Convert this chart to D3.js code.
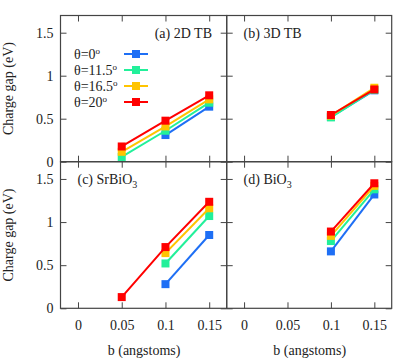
<!DOCTYPE html>
<html>
<head>
<meta charset="utf-8">
<script src="https://cdn.jsdelivr.net/npm/d3@7/dist/d3.min.js"></script>
<style>
html,body{margin:0;padding:0;background:#fff;}
svg{display:block;}
svg text{font-family:"Liberation Serif","DejaVu Serif","Times New Roman",Times,serif !important;fill:#222;}
</style>
</head>
<body>
<div id="chart"></div>
<script>
// ---- data ----
const bValues = [0.05, 0.1, 0.15];
const seriesNames = ["θ=0", "θ=11.5", "θ=16.5", "θ=20"];
const seriesColors = ["#1e6ff5", "#22f09a", "#ffc400", "#ff0000"];
const xTicks = [0, 0.05, 0.1, 0.15];
const xTickLabels = ["0", "0.05", "0.1", "0.15"];
const yTicks = [0, 0.5, 1, 1.5];
const yTickLabels = ["0", "0.5", "1", "1.5"];
const panelLabels = ["(a) 2D TB", "(b) 3D TB", "(c) SrBiO", "(d) BiO"];
const panelSubs = ["", "", "3", "3"];
// values per panel: [theta0, theta11.5, theta16.5, theta20]
const gap2DTB = [[null, 0.31, 0.64], [0.055, 0.36, 0.686], [0.115, 0.41, 0.725], [0.177, 0.477, 0.772]];
const gap3DTB = [[null, 0.52, 0.83], [null, 0.515, 0.835], [null, 0.535, 0.86], [null, 0.543, 0.84]];
const gapSrBiO3 = [[null, 0.28, 0.85], [null, 0.52, 1.07], [null, 0.64, 1.16], [0.13, 0.71, 1.235]];
const gapBiO3 = [[null, 0.66, 1.32], [null, 0.78, 1.38], [null, 0.84, 1.42], [null, 0.89, 1.45]];
const panelData = [gap2DTB, gap3DTB, gapSrBiO3, gapBiO3];

const W = 399, H = 358;
const FONT = "Liberation Serif, DejaVu Serif, serif";
const svg = d3.select("#chart").append("svg").attr("width", W).attr("height", H)
  .attr("font-family", FONT);

const cols = [[60.5, 226.7], [226.7, 391.7]];
const rows = [[15.5, 161.7], [161.7, 308.3]];
const fs = 14;

panelData.forEach((data, i) => {
  const c = i % 2, r = Math.floor(i / 2);
  const x = d3.scaleLinear().domain([-0.02, 0.17]).range(cols[c]);
  const y = d3.scaleLinear().domain([0, 1.7]).range([rows[r][1], rows[r][0]]);
  const g = svg.append("g");

  // axes (inward ticks)
  const mkAxis = (axis, tr, showLabels) => {
    const a = g.append("g").attr("transform", tr).call(axis).attr("font-family", FONT).attr("font-size", fs);
    a.select(".domain").remove();
    a.selectAll(".tick line").attr("stroke", "#444");
    if (!showLabels) a.selectAll(".tick text").remove();
    else a.selectAll(".tick text").attr("fill", "#222");
    return a;
  };
  mkAxis(d3.axisLeft(y).tickValues(yTicks).tickSize(-6).tickPadding(7).tickFormat((d, k) => yTickLabels[k]),
    `translate(${cols[c][0]},0)`, c === 0);
  mkAxis(d3.axisRight(y).tickValues(yTicks).tickSize(-6).tickFormat(""), `translate(${cols[c][1]},0)`, false);
  mkAxis(d3.axisTop(x).tickValues(xTicks).tickSize(-6).tickFormat(""), `translate(0,${rows[r][0]})`, false);
  mkAxis(d3.axisBottom(x).tickValues(xTicks).tickSize(-6).tickPadding(12).tickFormat((d, k) => xTickLabels[k]),
    `translate(0,${rows[r][1]})`, r === 1);

  // border
  g.append("rect").attr("x", cols[c][0]).attr("y", rows[r][0])
    .attr("width", cols[c][1] - cols[c][0]).attr("height", rows[r][1] - rows[r][0])
    .attr("fill", "none").attr("stroke", "#444").attr("stroke-width", 1.2);

  // series
  const line = d3.line().defined(d => d.v !== null).x(d => x(d.b)).y(d => y(d.v));
  data.forEach((vals, s) => {
    const pts = bValues.map((b, k) => ({ b, v: vals[k] }));
    g.append("path").datum(pts).attr("d", line).attr("fill", "none")
      .attr("stroke", seriesColors[s]).attr("stroke-width", 2);
    g.selectAll(null).data(pts.filter(p => p.v !== null)).enter().append("rect")
      .attr("x", p => x(p.b) - 4).attr("y", p => y(p.v) - 4)
      .attr("width", 8).attr("height", 8).attr("fill", seriesColors[s]);
  });

  // panel label
  const lt = g.append("text").attr("font-size", fs);
  if (i === 0) lt.attr("x", 212).attr("y", 38).attr("text-anchor", "end");
  else lt.attr("x", x(0) - 0.5).attr("y", rows[r][0] + 22.5);
  lt.append("tspan").text(panelLabels[i]);
  if (panelSubs[i]) lt.append("tspan").attr("font-size", 10).attr("dy", 4).text(panelSubs[i]);

  // axis titles
  if (c === 0) {
    g.append("text").attr("font-size", fs).attr("text-anchor", "middle")
      .attr("transform", `translate(13,${(rows[r][0] + rows[r][1]) / 2}) rotate(-90)`)
      .text("Charge gap (eV)");
  }
  if (r === 1) {
    g.append("text").attr("font-size", fs).attr("text-anchor", "middle")
      .attr("x", (cols[c][0] + cols[c][1]) / 2 + 0.5).attr("y", 355)
      .text("b (angstoms)");
  }

  // legend in panel (a)
  if (i === 0) {
    const ly = [54, 70, 86, 102];
    seriesNames.forEach((n, s) => {
      const t = g.append("text").attr("x", 74).attr("y", ly[s] + 5).attr("font-size", fs);
      t.append("tspan").text(n);
      t.append("tspan").attr("font-size", 9).attr("dy", -5).text("o");
      g.append("line").attr("x1", 124).attr("x2", 148).attr("y1", ly[s]).attr("y2", ly[s])
        .attr("stroke", seriesColors[s]).attr("stroke-width", 2);
      g.append("rect").attr("x", 132).attr("y", ly[s] - 4).attr("width", 8).attr("height", 8)
        .attr("fill", seriesColors[s]);
    });
  }
});
</script>
</body>
</html>
